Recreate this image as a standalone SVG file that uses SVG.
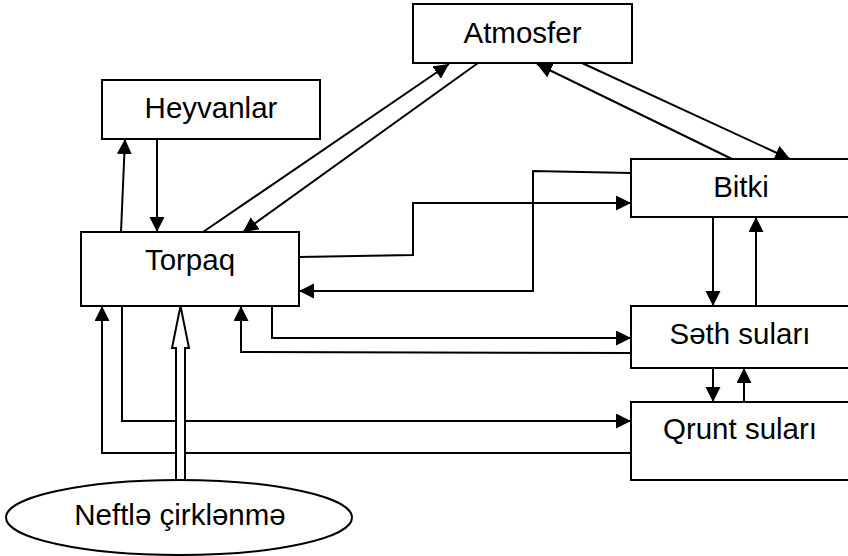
<svg xmlns="http://www.w3.org/2000/svg" width="848" height="556" viewBox="0 0 848 556">
  <style>
    .box { fill: #ffffff; stroke: #000000; stroke-width: 2; }
    .lbl { font-family: "Liberation Sans", Arial, sans-serif; font-size: 29.5px; fill: #000000; text-anchor: middle; }
    .ln { fill: none; stroke: #000000; stroke-width: 2; }
    .arr { marker-end: url(#head); }
  </style>
  <defs>
    <marker id="head" markerUnits="userSpaceOnUse" markerWidth="16" markerHeight="16" refX="15" refY="7.5" orient="auto">
      <path d="M0,0 L15,7.5 L0,15 Z" fill="#000000"/>
    </marker>
  </defs>
  <rect width="848" height="556" fill="#ffffff"/>

  <!-- nodes -->
  <g id="atmosfer">
    <rect class="box" x="413" y="4" width="219" height="59"/>
    <text class="lbl" x="522.5" y="43">Atmosfer</text>
  </g>
  <g id="heyvanlar">
    <rect class="box" x="102" y="80" width="218" height="59"/>
    <text class="lbl" x="211" y="118">Heyvanlar</text>
  </g>
  <g id="torpaq">
    <rect class="box" x="81" y="232" width="218" height="74"/>
    <text class="lbl" x="190" y="270">Torpaq</text>
  </g>
  <g id="bitki">
    <rect class="box" x="631" y="159" width="222" height="58"/>
    <text class="lbl" x="741" y="197">Bitki</text>
  </g>
  <g id="seth-sulari">
    <rect class="box" x="631" y="306" width="222" height="62"/>
    <text class="lbl" x="740" y="344">Səth suları</text>
  </g>
  <g id="qrunt-sulari">
    <rect class="box" x="631" y="402" width="222" height="78"/>
    <text class="lbl" x="740" y="439">Qrunt suları</text>
  </g>

  <!-- connectors -->
  <g id="connectors">
    <!-- Torpaq <-> Heyvanlar -->
    <path class="ln arr" d="M121,232 L125,139"/>
    <path class="ln arr" d="M157,139 L157,232"/>
    <!-- Torpaq <-> Atmosfer -->
    <path class="ln arr" d="M203,232 L449,64"/>
    <path class="ln arr" d="M478,63 L243,232"/>
    <!-- Atmosfer <-> Bitki -->
    <path class="ln arr" d="M582,63 L790,159"/>
    <path class="ln arr" d="M732,159 L537,64"/>
    <!-- Torpaq <-> Bitki -->
    <path class="ln arr" d="M299,257 L413,255 L413,203 L631,203"/>
    <path class="ln arr" d="M631,173 L533,171 L533,291 L299,291"/>
    <!-- Bitki <-> Səth suları -->
    <path class="ln arr" d="M713,217 L713,306"/>
    <path class="ln arr" d="M756,306 L756,217"/>
    <!-- Səth suları <-> Qrunt suları -->
    <path class="ln arr" d="M713,368 L713,402"/>
    <path class="ln arr" d="M744,402 L744,368"/>
    <!-- Torpaq <-> Səth suları -->
    <path class="ln arr" d="M272,306 L272,338 L631,338"/>
    <path class="ln arr" d="M631,353 L241,352 L241,306"/>
    <!-- Torpaq <-> Qrunt suları -->
    <path class="ln arr" d="M122,306 L122,421 L631,421"/>
    <path class="ln arr" d="M631,453 L102,453 L102,306"/>
    <!-- hollow arrow: Neftlə çirklənmə -> Torpaq -->
    <path d="M176,481 L176,348 L172,348 L180.5,306 L189,348 L185,348 L185,481 Z" fill="#ffffff" stroke="#000000" stroke-width="2" stroke-linejoin="miter"/>
  </g>

  <g id="neft">
    <ellipse class="box" cx="179" cy="517.5" rx="173" ry="37.5"/>
    <text class="lbl" x="180" y="525">Neftlə çirklənmə</text>
  </g>
</svg>
